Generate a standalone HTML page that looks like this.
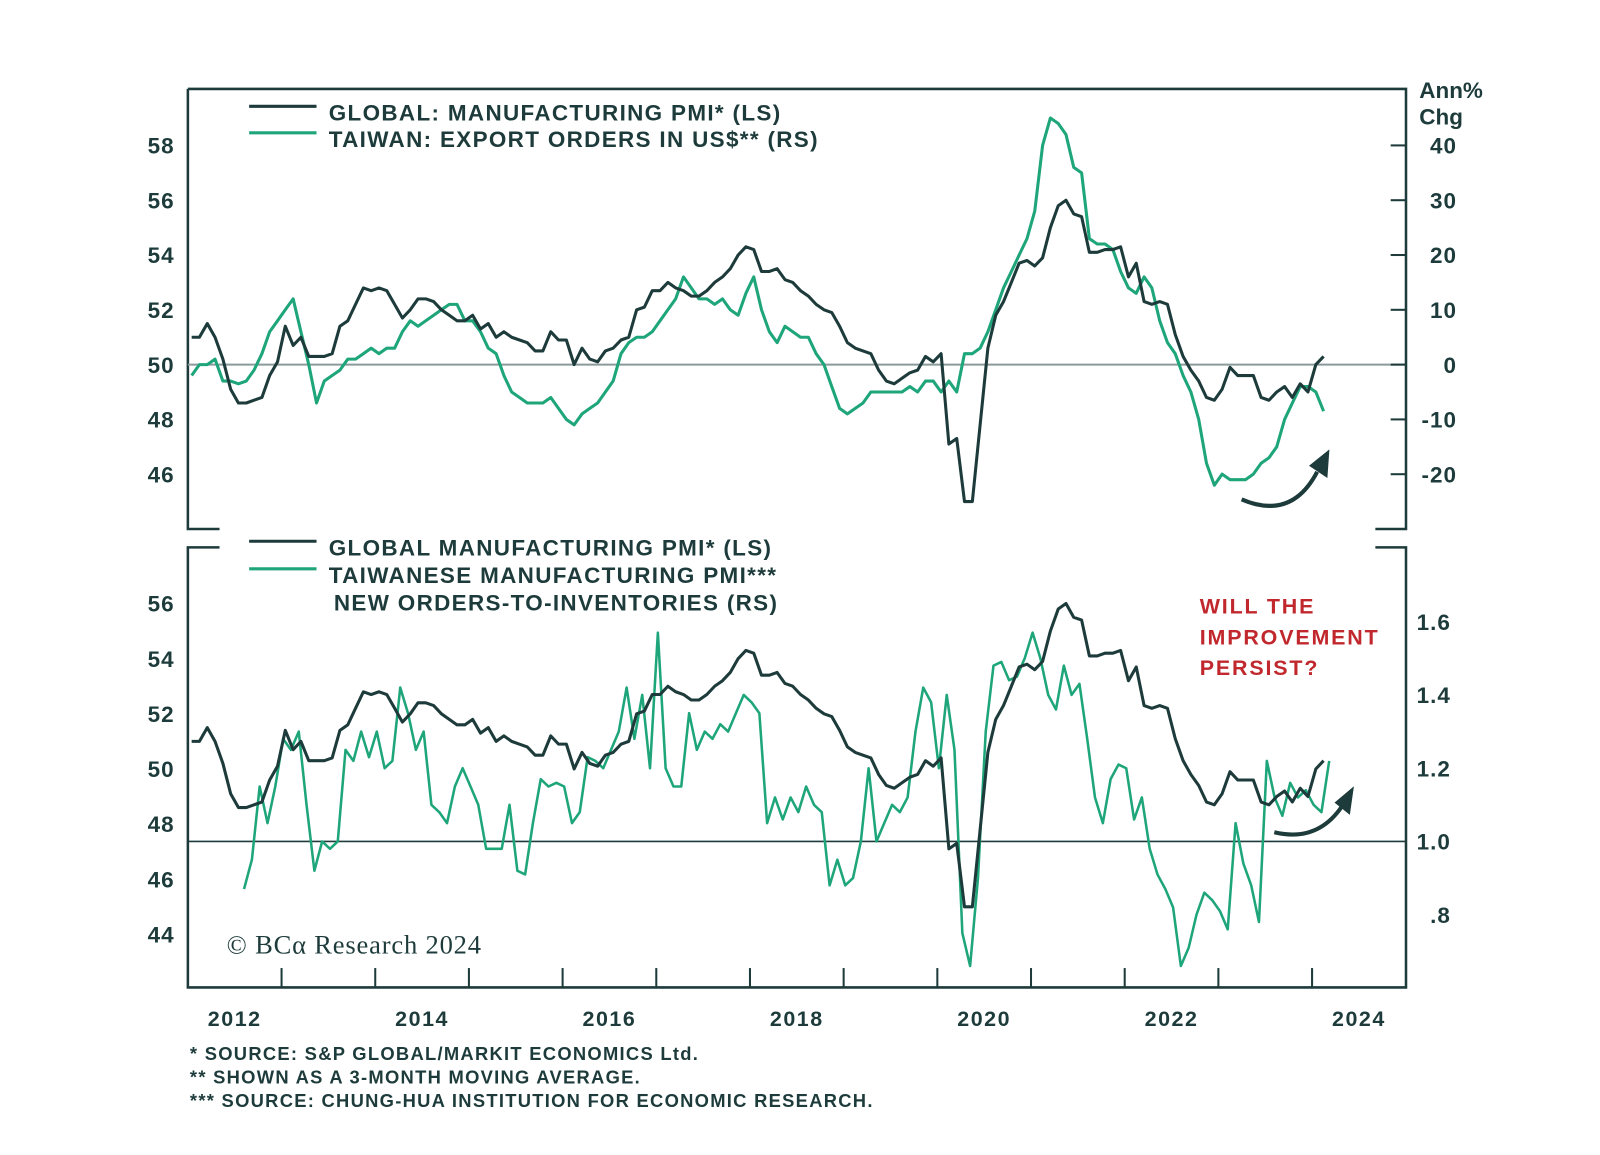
<!DOCTYPE html>
<html><head><meta charset="utf-8"><style>
body{margin:0;background:#fff;}
svg{display:block;font-family:"Liberation Sans",sans-serif;}
</style></head><body>
<svg id="c" width="1600" height="1155" viewBox="0 0 1567 1131">
</svg>
<script>
// ---- data ----
const globalStart = 2012.04;
const globalPMI = [51.0,51.0,51.5,51.0,50.2,49.1,48.6,48.6,48.7,48.8,49.6,50.1,
51.4,50.7,51.0,50.3,50.3,50.3,50.4,51.4,51.6,52.2,52.8,52.7,
52.8,52.7,52.2,51.7,52.0,52.4,52.4,52.3,52.0,51.8,51.6,51.6,
51.8,51.3,51.5,51.0,51.2,51.0,50.9,50.8,50.5,50.5,51.2,50.9,
50.9,50.0,50.6,50.2,50.1,50.5,50.6,50.9,51.0,52.0,52.1,52.7,
52.7,53.0,52.8,52.7,52.5,52.5,52.7,53.0,53.2,53.5,54.0,54.3,
54.2,53.4,53.4,53.5,53.1,53.0,52.7,52.5,52.2,52.0,51.9,51.4,
50.8,50.6,50.5,50.4,49.8,49.4,49.3,49.5,49.7,49.8,50.3,50.1,
50.4,47.1,47.3,45.0,45.0,47.8,50.6,51.8,52.3,53.0,53.7,53.8,
53.6,53.9,55.0,55.8,56.0,55.5,55.4,54.1,54.1,54.2,54.2,54.3,
53.2,53.7,52.3,52.2,52.3,52.2,51.1,50.3,49.8,49.4,48.8,48.7,
49.1,49.9,49.6,49.6,49.6,48.8,48.7,49.0,49.2,48.8,49.3,49.0,
50.0,50.3];
const twExportStart = 2012.04;
const twExport = [-2,0,0,1,-3,-3,-3.5,-3,-1,2,6,8,
10,12,6,0,-7,-3,-2,-1,1,1,2,3,
2,3,3,6,8,7,8,9,10,11,11,8,
8,6,3,2,-2,-5,-6,-7,-7,-7,-6,-8,
-10,-11,-9,-8,-7,-5,-3,2,4,5,5,6,
8,10,12,16,14,12,12,11,12,10,9,13,
16,10,6,4,7,6,5,5,2,0,-4,-8,
-9,-8,-7,-5,-5,-5,-5,-5,-4,-5,-3,-3,
-5,-3,-5,2,2,3,6,10,14,17,20,23,
28,40,45,44,42,36,35,23,22,22,21,17,
14,13,16,14,8,4,2,-2,-5,-10,-18,-22,
-20,-21,-21,-21,-20,-18,-17,-15,-10,-7,-4,-4,
-5,-8.5];
const twOIStart = 2012.6;
const twOI = [0.87,0.95,1.15,1.05,1.15,1.28,1.25,1.3,1.1,0.92,1.0,0.98,1.0,1.25,1.22,1.3,1.23,1.3,1.2,1.22,1.42,1.35,1.25,1.3,1.1,1.08,1.05,1.15,1.2,1.15,1.1,0.98,0.98,0.98,1.1,0.92,0.91,1.05,1.17,1.15,1.16,1.15,1.05,1.08,1.23,1.22,1.2,1.25,1.3,1.42,1.28,1.4,1.2,1.57,1.2,1.15,1.15,1.35,1.25,1.3,1.28,1.32,1.3,1.35,1.4,1.38,1.35,1.05,1.12,1.06,1.12,1.08,1.15,1.1,1.08,0.88,0.95,0.88,0.9,1.0,1.2,1.0,1.05,1.1,1.08,1.12,1.3,1.42,1.38,1.2,1.4,1.25,0.75,0.66,0.9,1.3,1.48,
1.49,1.44,1.45,1.50,1.57,1.50,1.40,1.36,1.48,1.40,1.43,1.28,1.12,1.05,1.17,1.21,1.20,1.06,1.12,0.98,0.91,0.87,0.82,0.66,0.71,0.80,0.86,0.84,0.81,0.76,1.05,0.94,0.88,0.78,1.22,1.12,1.07,1.16,1.12,1.14,1.10,1.08,1.22];
const leftTicksTop = [46,48,50,52,54,56,58];
const rightTicksTop = [-20,-10,0,10,20,30,40];
const leftTicksBot = [44,46,48,50,52,54,56];
const rightTicksBot = [0.8,1.0,1.2,1.4,1.6];
const rightTickLabelsBot = [".8","1.0","1.2","1.4","1.6"];
const yearLabels = [2012,2014,2016,2018,2020,2022,2024];

// ---- scales ----
const X0=184, X1=1377;
const x = t => X0 + (t-2012)*(1285-X0)/12;
const yTL = v => 357 - (v-50)*26.83;
const yTR = v => 357 - v*5.367;
const yBL = v => 753 - (v-50)*27.0;
const yBR = v => 824 - (v-1.0)*358.75;
const NS="http://www.w3.org/2000/svg";
const svg=document.getElementById('c');
function el(tag,attrs,parent){const e=document.createElementNS(NS,tag);for(const k in attrs)e.setAttribute(k,attrs[k]);(parent||svg).appendChild(e);return e;}
const DARK="#1e3b3b", GREEN="#1ea57a", TXT="#1e3b3b";
function txt(s,xx,yy,size,anchor,fill,ls){const t=el('text',{x:xx,y:yy,'font-size':size,'text-anchor':anchor||'start',fill:fill||TXT,'font-weight':'bold','letter-spacing':ls||0});t.textContent=s;return t;}

let f=el('path',{d:`M${X0} 87H${X1}V518H1347M${X0} 87V518H215`,fill:'none',stroke:DARK,'stroke-width':2.5});


f=el('path',{d:`M215 536H${X0}V967H${X1}V536H1347`,fill:'none',stroke:DARK,'stroke-width':2.5});



let r=el('line',{x1:X0,x2:X1,y1:yTL(50),y2:yTL(50),stroke:'#8a9a9a','stroke-width':2});


r=el('line',{x1:X0,x2:X1,y1:yBR(1.0),y2:yBR(1.0),stroke:DARK,'stroke-width':1.5});



leftTicksTop.forEach(v=>{const t=txt(String(v),171,yTL(v)+8,22,'end',null,1);});
rightTicksTop.forEach(v=>{const l=el('line',{x1:1362,x2:X1,y1:yTR(v),y2:yTR(v),stroke:DARK,'stroke-width':2});
 const t=txt(String(v),1427,yTR(v)+8,22,'end',null,1);});
leftTicksBot.forEach(v=>{const t=txt(String(v),171,yBL(v)+8,22,'end',null,1);});
rightTicksBot.forEach((v,i)=>{const t=txt(rightTickLabelsBot[i],1421,yBR(v)+8,22,'end',null,1);});
for(let yr=2013;yr<=2024;yr++){const l=el('line',{x1:x(yr),x2:x(yr),y1:948,y2:967,stroke:DARK,'stroke-width':2});}
yearLabels.forEach(yr=>{const t=txt(String(yr),x(yr+0.5),1005,21,'middle',null,1.5);});
let a=txt('Ann%',1390,96,22,'start');
a=txt('Chg',1390,122,22,'start');

function line(data,t0,step,ys,color,w,name){
 const pts=data.map((v,i)=>`${x(t0+i*step).toFixed(1)},${ys(v).toFixed(1)}`).join(' ');
 const p=el('polyline',{points:pts,fill:'none',stroke:color,'stroke-width':w,'stroke-linejoin':'round'});
 
 
}
line(twExport,twExportStart,1/12,yTR,GREEN,3,'taiwan-export-orders-line');
line(globalPMI,globalStart,1/12,yTL,DARK,3,'global-pmi-line-top');
line(twOI,twOIStart,1/12,yBR,GREEN,2.5,'taiwan-orders-inventories-line');
line(globalPMI,globalStart,1/12,yBL,DARK,3,'global-pmi-line-bottom');

function leg(y,color,name){const l=el('line',{x1:244,x2:310,y1:y,y2:y,stroke:color,'stroke-width':3});}
leg(104,DARK,'legend-global-swatch-top');leg(130,GREEN,'legend-taiwan-export-swatch');
leg(530,DARK,'legend-global-swatch-bottom');leg(557,GREEN,'legend-taiwan-pmi-swatch');
[['GLOBAL: MANUFACTURING PMI* (LS)',118,'legend-global-top'],['TAIWAN: EXPORT ORDERS IN US$** (RS)',144,'legend-taiwan-export'],
 ['GLOBAL MANUFACTURING PMI* (LS)',544,'legend-global-bottom'],['TAIWANESE MANUFACTURING PMI***',571,'legend-taiwan-pmi'],['NEW ORDERS-TO-INVENTORIES (RS)',598,'legend-taiwan-pmi-2']]
.forEach(([s,yy,n])=>{const t=txt(s,n==='legend-taiwan-pmi-2'?327:322,yy,22,'start',null,1.3);});

['WILL THE','IMPROVEMENT','PERSIST?'].forEach((s,i)=>{const t=txt(s,1175,601+i*30,21,'start','#c0282d',1.8);});

function arrow(d,tip,name){const g=el('g',{});
 el('path',{d:d,fill:'none',stroke:DARK,'stroke-width':4},g);el('polygon',{points:tip,fill:DARK},g);}
arrow('M1216 489Q1265 510 1290 462','1282,456 1302,440 1300,468','top-arrow');
arrow('M1248 815Q1290 825 1314 790','1307,786 1326,770 1322,798','bottom-arrow');

const cp=el('text',{x:222,y:934,'font-size':26,'letter-spacing':0.8,fill:TXT,'font-family':'Liberation Serif, serif'});cp.textContent='© BCα Research 2024';


['* SOURCE: S&P GLOBAL/MARKIT ECONOMICS Ltd.','** SHOWN AS A 3-MONTH MOVING AVERAGE.','*** SOURCE: CHUNG-HUA INSTITUTION FOR ECONOMIC RESEARCH.']
.forEach((s,i)=>{const t=txt(s,186,1038+i*23,18,'start',null,1.25);});
</script>
</body></html>
